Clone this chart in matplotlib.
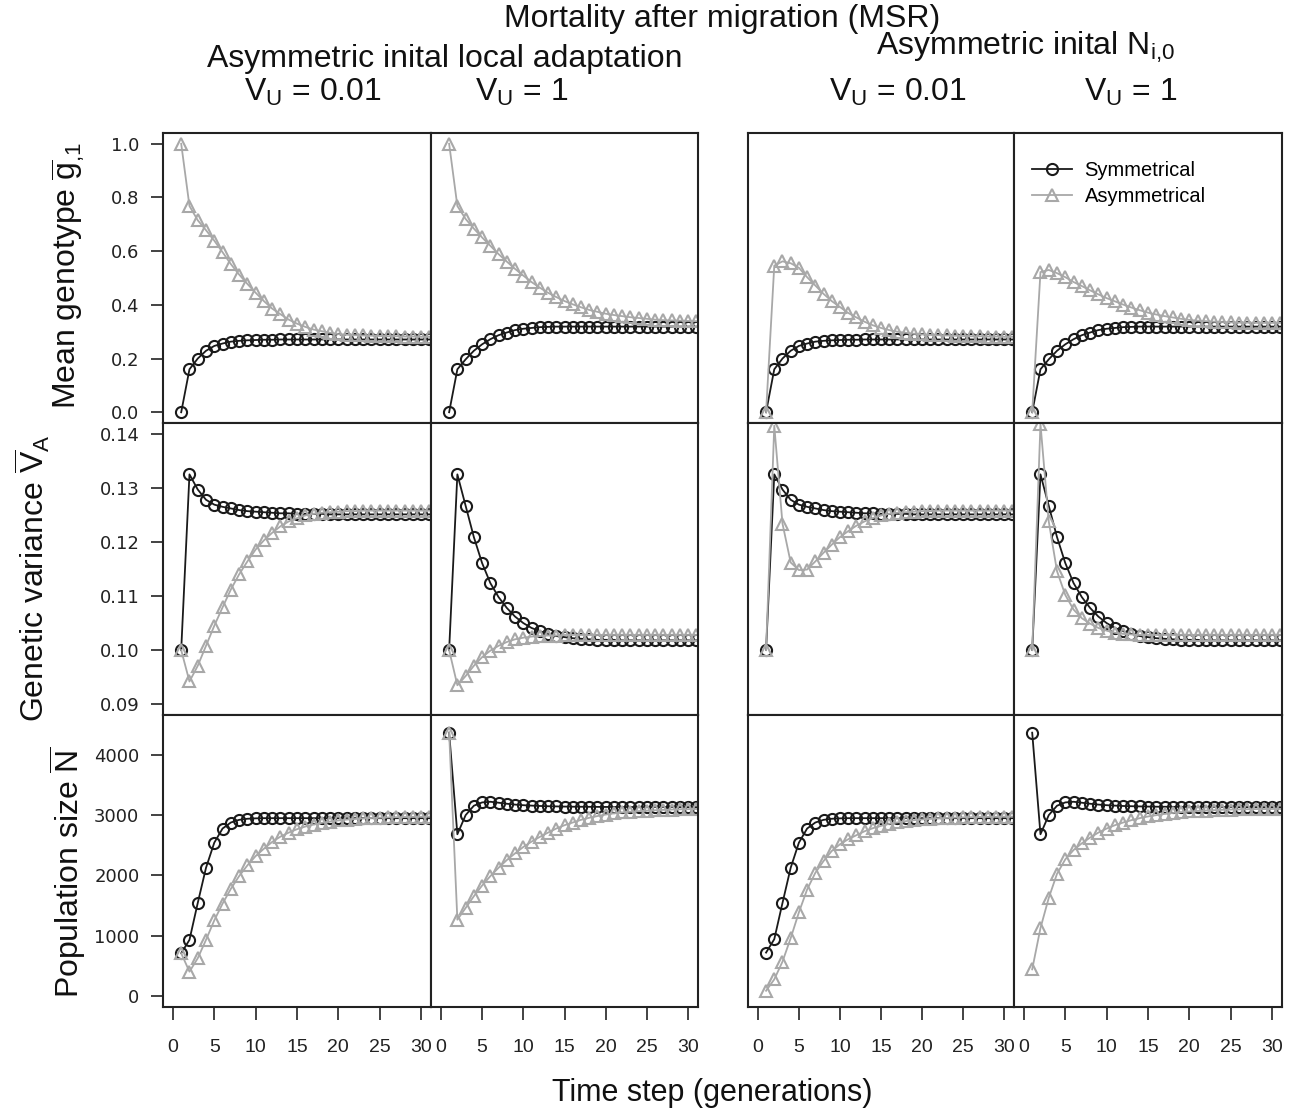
import numpy as np
import matplotlib
matplotlib.use("Agg")
import matplotlib.pyplot as plt

plt.rcParams['font.family'] = ['Liberation Sans', 'DejaVu Sans']
plt.rcParams['mathtext.fontset'] = 'custom'
plt.rcParams['mathtext.rm'] = 'Liberation Sans'
plt.rcParams['mathtext.it'] = 'Liberation Sans'
plt.rcParams['mathtext.default'] = 'regular'

time_steps = np.arange(1, 32)

# mean genotype g1
g_sym_la_low = [0, 0.16, 0.20, 0.229, 0.247, 0.256, 0.263, 0.266, 0.268, 0.269, 0.270,
                0.270, 0.271, 0.271, 0.271, 0.271, 0.271, 0.271, 0.271, 0.271, 0.271,
                0.271, 0.271, 0.271, 0.271, 0.271, 0.271, 0.271, 0.271, 0.271, 0.271]
g_asym_la_low = [1.0, 0.768, 0.715, 0.678, 0.639, 0.596, 0.552, 0.513, 0.478, 0.445, 0.414,
                 0.386, 0.365, 0.345, 0.330, 0.318, 0.308, 0.302, 0.296, 0.291, 0.289,
                 0.287, 0.286, 0.285, 0.284, 0.283, 0.283, 0.282, 0.282, 0.281, 0.281]
g_sym_la_high = [0, 0.16, 0.197, 0.229, 0.253, 0.272, 0.287, 0.297, 0.306, 0.311, 0.314,
                 0.317, 0.318, 0.319, 0.319, 0.319, 0.319, 0.319, 0.319, 0.319, 0.319,
                 0.319, 0.319, 0.319, 0.319, 0.319, 0.319, 0.319, 0.319, 0.319, 0.319]
g_asym_la_high = [1.0, 0.768, 0.72, 0.684, 0.651, 0.62, 0.589, 0.561, 0.534, 0.509, 0.485,
                  0.464, 0.445, 0.429, 0.414, 0.402, 0.391, 0.381, 0.374, 0.367, 0.362,
                  0.358, 0.354, 0.351, 0.348, 0.345, 0.343, 0.342, 0.341, 0.340, 0.339]
g_sym_n_low = [0, 0.16, 0.20, 0.229, 0.247, 0.256, 0.263, 0.266, 0.268, 0.269, 0.270,
               0.270, 0.271, 0.271, 0.271, 0.271, 0.271, 0.271, 0.271, 0.271, 0.271,
               0.271, 0.271, 0.271, 0.271, 0.271, 0.271, 0.271, 0.271, 0.271, 0.271]
g_asym_n_low = [0, 0.546, 0.562, 0.555, 0.538, 0.503, 0.472, 0.441, 0.414, 0.392, 0.370,
                0.353, 0.337, 0.324, 0.314, 0.306, 0.300, 0.296, 0.292, 0.290, 0.288,
                0.287, 0.286, 0.285, 0.284, 0.283, 0.283, 0.282, 0.282, 0.281, 0.281]
g_sym_n_high = [0, 0.16, 0.197, 0.229, 0.253, 0.272, 0.287, 0.297, 0.306, 0.311, 0.314,
                0.317, 0.318, 0.319, 0.319, 0.319, 0.319, 0.319, 0.319, 0.319, 0.319,
                0.319, 0.319, 0.319, 0.319, 0.319, 0.319, 0.319, 0.319, 0.319, 0.319]
g_asym_n_high = [0, 0.522, 0.53, 0.518, 0.503, 0.485, 0.47, 0.454, 0.439, 0.425, 0.413,
                 0.401, 0.39, 0.38, 0.371, 0.364, 0.358, 0.353, 0.348, 0.344, 0.341,
                 0.339, 0.337, 0.336, 0.335, 0.334, 0.334, 0.333, 0.333, 0.333, 0.333]

# genetic variance VA
v_sym_la_low = [0.100, 0.1325, 0.1297, 0.1278, 0.1269, 0.1265, 0.1262, 0.1259, 0.1257, 0.1256,
                0.1255, 0.1254, 0.1253, 0.1253, 0.1252, 0.1252, 0.1252, 0.1252, 0.1251, 0.1251,
                0.1251, 0.1251, 0.1251, 0.1251, 0.1251, 0.1251, 0.1251, 0.1251, 0.1251, 0.1251, 0.1251]
v_asym_la_low = [0.100, 0.0942, 0.0971, 0.1008, 0.1045, 0.1079, 0.1112, 0.1140, 0.1164, 0.1186,
                 0.1203, 0.1217, 0.1229, 0.1238, 0.1244, 0.1249, 0.1252, 0.1254, 0.1255, 0.1256,
                 0.1257, 0.1257, 0.1258, 0.1258, 0.1258, 0.1258, 0.1258, 0.1258, 0.1258, 0.1258, 0.1258]
v_sym_la_high = [0.100, 0.1325, 0.1267, 0.1209, 0.1161, 0.1124, 0.1098, 0.1078, 0.1062, 0.1050,
                 0.1041, 0.1035, 0.1030, 0.1026, 0.1024, 0.1022, 0.1021, 0.1020, 0.1019, 0.1019,
                 0.1019, 0.1018, 0.1018, 0.1018, 0.1018, 0.1018, 0.1018, 0.1018, 0.1018, 0.1018, 0.1018]
v_asym_la_high = [0.100, 0.0935, 0.0952, 0.0971, 0.0987, 0.0999, 0.1008, 0.1015, 0.1020, 0.1023,
                  0.1025, 0.1026, 0.1027, 0.1027, 0.1028, 0.1028, 0.1028, 0.1028, 0.1028, 0.1028,
                  0.1028, 0.1028, 0.1028, 0.1028, 0.1028, 0.1028, 0.1028, 0.1028, 0.1028, 0.1028, 0.1028]
v_sym_n_low = [0.100, 0.1325, 0.1297, 0.1278, 0.1269, 0.1265, 0.1262, 0.1259, 0.1257, 0.1256,
               0.1255, 0.1254, 0.1253, 0.1253, 0.1252, 0.1252, 0.1252, 0.1252, 0.1251, 0.1251,
               0.1251, 0.1251, 0.1251, 0.1251, 0.1251, 0.1251, 0.1251, 0.1251, 0.1251, 0.1251, 0.1251]
v_asym_n_low = [0.100, 0.1415, 0.1234, 0.1162, 0.1148, 0.1149, 0.1164, 0.1180, 0.1195, 0.1209,
                0.1220, 0.1230, 0.1238, 0.1244, 0.1249, 0.1252, 0.1254, 0.1255, 0.1256, 0.1257,
                0.1257, 0.1258, 0.1258, 0.1258, 0.1258, 0.1258, 0.1258, 0.1258, 0.1258, 0.1258, 0.1258]
v_sym_n_high = [0.100, 0.1325, 0.1267, 0.1209, 0.1161, 0.1124, 0.1098, 0.1078, 0.1062, 0.1050,
                0.1041, 0.1035, 0.1030, 0.1026, 0.1024, 0.1022, 0.1021, 0.1020, 0.1019, 0.1019,
                0.1019, 0.1018, 0.1018, 0.1018, 0.1018, 0.1018, 0.1018, 0.1018, 0.1018, 0.1018, 0.1018]
v_asym_n_high = [0.100, 0.1418, 0.1238, 0.1146, 0.1102, 0.1075, 0.1059, 0.1049, 0.1041, 0.1036,
                 0.1032, 0.1030, 0.1029, 0.1028, 0.1028, 0.1028, 0.1028, 0.1028, 0.1028, 0.1028,
                 0.1028, 0.1028, 0.1028, 0.1028, 0.1028, 0.1028, 0.1028, 0.1028, 0.1028, 0.1028, 0.1028]

# population size N
n_sym_la_low = [711, 933, 1544, 2128, 2544, 2778, 2878, 2922, 2940, 2947, 2950,
                2950, 2950, 2950, 2950, 2950, 2950, 2950, 2950, 2950, 2950,
                2950, 2950, 2950, 2950, 2950, 2950, 2950, 2950, 2950, 2950]
n_asym_la_low = [711, 406, 628, 933, 1256, 1533, 1778, 1989, 2167, 2322, 2444,
                 2556, 2644, 2711, 2767, 2811, 2844, 2872, 2894, 2912, 2926,
                 2937, 2946, 2953, 2958, 2962, 2966, 2969, 2971, 2973, 2975]
n_sym_la_high = [4367, 2683, 3000, 3156, 3211, 3222, 3206, 3189, 3175, 3165, 3158,
                 3152, 3148, 3145, 3142, 3140, 3139, 3138, 3137, 3136, 3136,
                 3135, 3135, 3135, 3134, 3134, 3134, 3134, 3134, 3134, 3134]
n_asym_la_high = [4367, 1267, 1461, 1656, 1833, 1989, 2128, 2256, 2367, 2472, 2561,
                  2639, 2711, 2778, 2833, 2878, 2922, 2956, 2985, 3010, 3030,
                  3045, 3057, 3067, 3075, 3082, 3087, 3092, 3096, 3099, 3102]
n_sym_n_low = [722, 944, 1544, 2128, 2544, 2778, 2878, 2922, 2940, 2947, 2950,
               2950, 2950, 2950, 2950, 2950, 2950, 2950, 2950, 2950, 2950,
               2950, 2950, 2950, 2950, 2950, 2950, 2950, 2950, 2950, 2950]
n_asym_n_low = [89, 278, 572, 961, 1389, 1767, 2044, 2239, 2406, 2517, 2600,
                2667, 2733, 2783, 2822, 2856, 2880, 2900, 2916, 2929, 2939,
                2947, 2954, 2959, 2963, 2966, 2969, 2971, 2973, 2974, 2975]
n_sym_n_high = [4367, 2683, 3000, 3156, 3211, 3222, 3206, 3189, 3175, 3165, 3158,
                3152, 3148, 3145, 3142, 3140, 3139, 3138, 3137, 3136, 3136,
                3135, 3135, 3135, 3134, 3134, 3134, 3134, 3134, 3134, 3134]
n_asym_n_high = [444, 1128, 1628, 2028, 2267, 2422, 2533, 2628, 2711, 2778, 2833,
                 2878, 2917, 2950, 2978, 3000, 3020, 3036, 3050, 3061, 3070,
                 3077, 3083, 3088, 3092, 3095, 3098, 3100, 3101, 3102, 3103]

panels = [
    [(g_sym_la_low, g_asym_la_low), (g_sym_la_high, g_asym_la_high),
     (g_sym_n_low, g_asym_n_low), (g_sym_n_high, g_asym_n_high)],
    [(v_sym_la_low, v_asym_la_low), (v_sym_la_high, v_asym_la_high),
     (v_sym_n_low, v_asym_n_low), (v_sym_n_high, v_asym_n_high)],
    [(n_sym_la_low, n_asym_la_low), (n_sym_la_high, n_asym_la_high),
     (n_sym_n_low, n_asym_n_low), (n_sym_n_high, n_asym_n_high)],
]

row_ylims = [(-0.04, 1.04), (0.088, 0.142), (-180, 4660)]
row_yticks = [[0.0, 0.2, 0.4, 0.6, 0.8, 1.0],
              [0.09, 0.10, 0.11, 0.12, 0.13, 0.14],
              [0, 1000, 2000, 3000, 4000]]
row_yticklabels = [["0.0", "0.2", "0.4", "0.6", "0.8", "1.0"],
                   ["0.09", "0.10", "0.11", "0.12", "0.13", "0.14"],
                   ["0", "1000", "2000", "3000", "4000"]]
x_ticks = [0, 5, 10, 15, 20, 25, 30]

W, H = 1292, 1116
fig = plt.figure(figsize=(W / 100, H / 100), dpi=100)

col_px = [(163, 431), (431, 698), (748, 1014), (1014, 1282)]
row_px = [(133, 423), (423, 715), (715, 1007)]

sym_color = '#1a1a1a'
asym_color = '#a8a8a8'

for r, (top, bot) in enumerate(row_px):
    for c, (left, right) in enumerate(col_px):
        ax = fig.add_axes([left / W, 1 - bot / H, (right - left) / W, (bot - top) / H])
        sym, asym = panels[r][c]
        ax.plot(time_steps, sym, color=sym_color, lw=1.3, marker='o', ms=8,
                mfc='none', mec=sym_color, mew=1.5, label='Symmetrical')
        ax.plot(time_steps, asym, color=asym_color, lw=1.3, marker='^', ms=9,
                mfc='none', mec=asym_color, mew=1.5, label='Asymmetrical')
        ax.set_xlim(-1.2, 31.2)
        ax.set_ylim(*row_ylims[r])
        for s in ax.spines.values():
            s.set_linewidth(1.5)
            s.set_color('#222222')
        ax.tick_params(direction='out', length=9, width=1.2, color='#222222')
        if c == 0:
            ax.set_yticks(row_yticks[r])
            ax.set_yticklabels(row_yticklabels[r], fontsize=13, family='DejaVu Sans',
                               color='#222222')
            ax.tick_params(axis='y', pad=8)
        else:
            ax.set_yticks([])
        if r == 2:
            ax.set_xticks(x_ticks)
            ax.set_xticklabels([str(t) for t in x_ticks], fontsize=14, color='#222222')
            ax.tick_params(axis='x', pad=14)
        else:
            ax.set_xticks([])
        if r == 0 and c == 3:
            ax.legend(loc='upper left', frameon=False, fontsize=14.5,
                      bbox_to_anchor=(0.0, 0.965), handlelength=2.0,
                      handletextpad=0.6, labelspacing=0.35)

title_kw = dict(ha='center', va='center', fontsize=23, color='#111111')
fig.text(722 / W, 1 - 19 / H, 'Mortality after migration (MSR)', **title_kw)
fig.text(445 / W, 1 - 59 / H, 'Asymmetric inital local adaptation', **title_kw)
fig.text(1025 / W, 1 - 47 / H, 'Asymmetric inital N$_{i{,}0}$', **title_kw)
for xc, lab in [(313, '0.01'), (522, '1'), (898, '0.01'), (1131, '1')]:
    fig.text(xc / W, 1 - 92 / H, 'V$_U$ = ' + lab, **title_kw)

fig.text(712 / W, 1 - 1093 / H, 'Time step (generations)', fontsize=22,
         ha='center', va='center', color='#111111')
ylab_kw = dict(ha='center', va='center', fontsize=23, rotation=90, color='#111111')
fig.text(68 / W, 1 - 275 / H, r'Mean genotype $\overline{g}_{{,}1}$', **ylab_kw)
fig.text(32 / W, 1 - 578 / H, r'Genetic variance $\overline{V}_A$', **ylab_kw)
fig.text(68 / W, 1 - 872 / H, r'Population size $\overline{N}$', **ylab_kw)

fig.savefig('out.png', dpi=100)
